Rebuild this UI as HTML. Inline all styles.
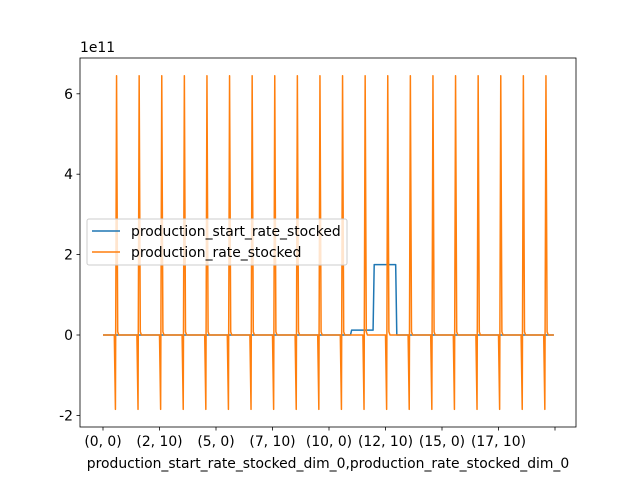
<!DOCTYPE html>
<html><head><meta charset="utf-8"><style>
body{margin:0;background:#fff;}
svg text{font-family:"DejaVu Sans","Liberation Sans",sans-serif;font-size:13.9px;fill:#000;}
</style></head><body>
<svg id="chart" width="640" height="480" viewBox="0 0 640 480" xmlns="http://www.w3.org/2000/svg">
<rect width="640" height="480" fill="#fff"/>
<g id="plot"></g>
</svg>
<script>
// group i covers indices 20*i .. 20*i+19 (i: 0..19, j: 0..19)
const groupCount = 20;
const perGroup = 20;
const spikeLow = [-1.85,-1.85,-1.85,-1.85,-1.85,-1.85,-1.85,-1.85,-1.85,-1.85,-1.85,-1.85,-1.85,-1.85,-1.85,-1.85,-1.85,-1.85,-1.85,-1.85];
const spikeHigh = [6.45,6.45,6.45,6.45,6.45,6.45,6.45,6.45,6.45,6.45,6.45,6.45,6.45,6.45,6.45,6.45,6.45,6.45,6.45,6.45];
const spikeBump = [0.08,0.08,0.08,0.08,0.08,0.08,0.08,0.08,0.08,0.08,0.08,0.08,0.08,0.08,0.08,0.08,0.08,0.08,0.08,0.08];
const blueLevel = [0,0,0,0,0,0,0,0,0,0,0,0.12,1.75,0,0,0,0,0,0,0];
const yTicks = [-2,0,2,4,6];
const xTickIdx = [0,50,100,150,200,250,300,350,400];
const xTickLabels = ["(0, 0)","(2, 10)","(5, 0)","(7, 10)","(10, 0)","(12, 10)","(15, 0)","(17, 10)",""];

const L=80,R=576,T=58,B=427;
const xs = i => 103 + i*1.13;
const ys = v => 335 - v*40.2;
const NS="http://www.w3.org/2000/svg";
const g=document.getElementById('plot');
function mk(tag,attrs,parent){const e=document.createElementNS(NS,tag);for(const k in attrs)e.setAttribute(k,attrs[k]);(parent||g).appendChild(e);return e;}

const blue=[],orange=[];
for(let gi=0;gi<groupCount;gi++){
  for(let j=0;j<perGroup;j++){
    blue.push(blueLevel[gi]);
    let v=0;
    if(j===11)v=spikeLow[gi];else if(j===12)v=spikeHigh[gi];else if(j===13)v=spikeBump[gi];
    orange.push(v);
  }
}
function pts(arr){return arr.map((v,i)=>xs(i).toFixed(2)+','+ys(v).toFixed(2)).join(' ');}
const pb=mk('polyline',{points:pts(blue),fill:'none',stroke:'#1f77b4','stroke-width':1.5,'stroke-linejoin':'round'});


const po=mk('polyline',{points:pts(orange),fill:'none',stroke:'#ff7f0e','stroke-width':1.5,'stroke-linejoin':'round'});



const fr=mk('rect',{x:L,y:T,width:R-L,height:B-T,fill:'none',stroke:'#000','stroke-width':0.8});



yTicks.forEach(v=>{
  const y=ys(v);
  mk('line',{x1:L-3.5,x2:L,y1:y,y2:y,stroke:'#000','stroke-width':0.8});
  const t=mk('text',{x:L-7,y:y+5,'text-anchor':'end'});t.textContent=v;
  
  
});
xTickIdx.forEach((idx,k)=>{
  const x=xs(idx);
  mk('line',{x1:x,x2:x,y1:B,y2:B+3.5,stroke:'#000','stroke-width':0.8});
  const t=mk('text',{x:x,y:B+19,'text-anchor':'middle'});t.textContent=xTickLabels[k];
  
  
});
const ex=mk('text',{x:L,y:T-6});ex.textContent='1e11';


const xt=mk('text',{x:(L+R)/2,y:468,'text-anchor':'middle'});xt.textContent='production_start_rate_stocked_dim_0,production_rate_stocked_dim_0';



const lg=mk('g',{});


mk('rect',{x:87,y:219,width:260,height:46,rx:2,fill:'#fff','fill-opacity':0.8,stroke:'#ccc','stroke-width':1},lg);
[['production_start_rate_stocked','#1f77b4',231],['production_rate_stocked','#ff7f0e',252]].forEach(([n,c,y])=>{
  const e=mk('g',{},lg);
  
  
  mk('line',{x1:92,x2:120,y1:y,y2:y,stroke:c,'stroke-width':1.5},e);
  const t=mk('text',{x:131,y:y+5},e);t.textContent=n;
});
</script>
</body></html>
